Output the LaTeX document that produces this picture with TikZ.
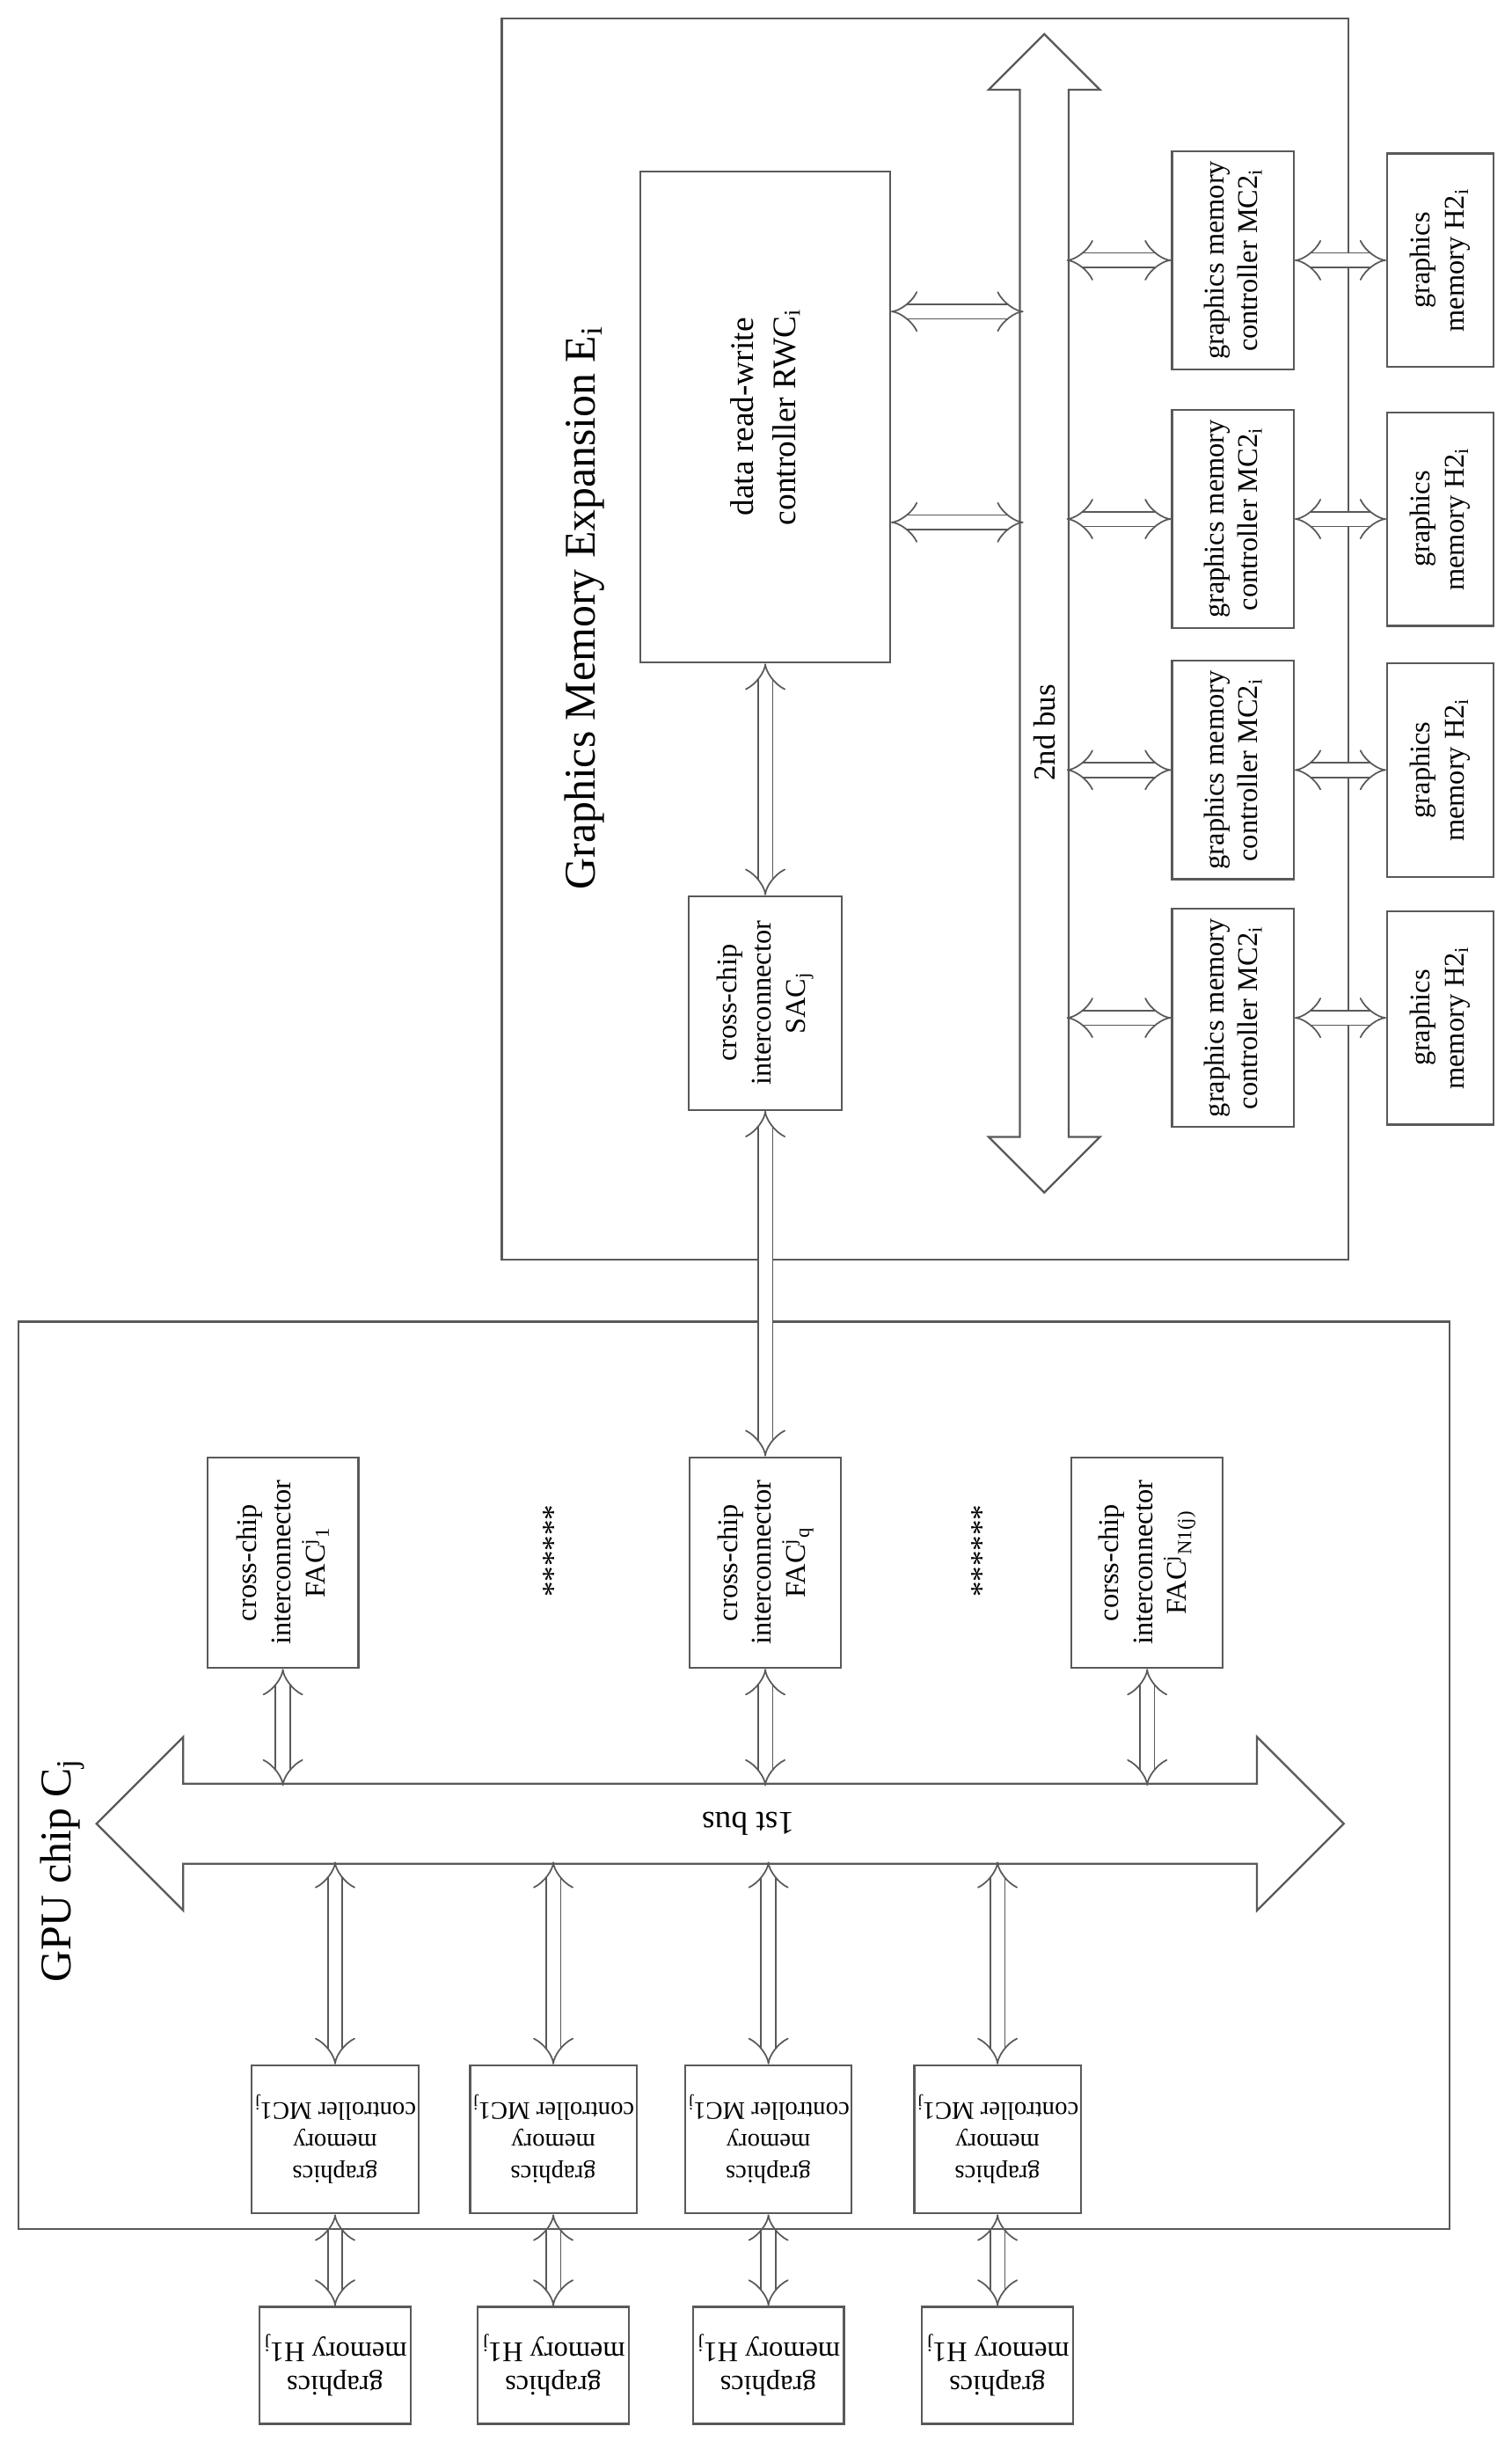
\documentclass[tikz,border=0pt]{standalone}
\usepackage{fontspec}
\setmainfont{Liberation Serif}
\usetikzlibrary{arrows.meta,shapes.arrows,positioning}
\tikzstyle{frame} = [draw=black!65, line width=0.9pt, inner sep=0pt]
\tikzstyle{box} = [draw=black!65, line width=0.9pt, text centered, align=center, inner sep=1pt, font=\fontsize{13}{15.5}\selectfont]
\tikzstyle{bus} = [draw=black!65, line width=0.9pt, shape=double arrow, inner sep=0pt, text depth=0pt, double arrow tip angle=90]
\tikzstyle{link} = [draw=black!65, line width=0.7pt, double=white, double distance=6pt, {Implies[length=6pt]}-{Implies[length=6pt]}]
\tikzstyle{title} = [font=\fontsize{20}{23}\selectfont]
\newcommand{\mctwo}[2]{node (m#1) [box, rotate=90, minimum width=3.5cm, minimum height=1.95cm] {graphics memory\\controller MC2\textsubscript{i}}}
\newcommand{\hmtwo}[2]{node (h#1) [box, rotate=90, minimum width=3.425cm, minimum height=1.7cm] {graphics\\memory H2\textsubscript{i}}}
\newcommand{\mcone}[2]{node (c#1) [box, rotate=180, minimum width=2.5cm, minimum height=2.375cm, font=\fontsize{11.5}{14.5}\selectfont] {graphics\\memory\\controller MC1\textsubscript{j}}}
\newcommand{\hmone}[2]{node (g#1) [box, rotate=180, minimum width=2.425cm, minimum height=1.875cm] {graphics\\memory H1\textsubscript{j}}}

\begin{document}
\begin{tikzpicture}[x=0.025cm,y=0.025cm]
\useasboundingbox (0,0) rectangle (970,1566);
% the two outer frames
\node (gpu) [frame, minimum width=22.95cm, minimum height=14.55cm] at (471,427) {};
\node (gme) [frame, minimum width=13.575cm, minimum height=19.9cm] at (593.5,1156) {};
\node [title, rotate=90] at (375,1176) {Graphics Memory Expansion E\textsubscript{i}};
\node [title, rotate=90] at (40,366) {GPU chip C\textsubscript{j}};

% graphics memory expansion
\node (rwc) [box, rotate=90, minimum width=7.875cm, minimum height=4cm, font=\fontsize{15}{19}\selectfont] at (491,1298.5) {data read-write\\controller RWC\textsubscript{i}};
\node (sac) [box, rotate=90, minimum width=3.425cm, minimum height=2.45cm] at (491,922.5) {cross-chip\\interconnector\\SAC\textsubscript{j}};
\node (bus2) [bus, rotate=90, minimum height=18.575cm, text height=0.75cm, minimum width=1.75cm, double arrow head extend=0.5cm] at (670,1172.5) {};
\node [rotate=90, font=\fontsize{14}{16}\selectfont] at (670,1096) {2nd bus};
\path (791,1399) \mctwo{1}{};
\path (791,1233) \mctwo{2}{};
\path (791,1072) \mctwo{3}{};
\path (791,913) \mctwo{4}{};
\path (924,1399) \hmtwo{1}{};
\path (924,1233) \hmtwo{2}{};
\path (924,1072) \hmtwo{3}{};
\path (924,913) \hmtwo{4}{};
\path [link] ([yshift=1.69cm]rwc.south) -- ++(85,0);
\path [link] ([yshift=-1.69cm]rwc.south) -- ++(85,0);
\foreach \i in {1,...,4} {
  \path [link] (m\i.north) -- ++(-67,0);
  \path [link] (m\i.south) -- (h\i.north);
}
\path [link] (sac.east) -- (rwc.west);

% GPU chip
\node (fac1) [box, rotate=90, minimum width=3.375cm, minimum height=2.425cm] at (181.5,563.5) {cross-chip\\interconnector\\FAC\textsuperscript{j}\textsubscript{1}};
\node (facq) [box, rotate=90, minimum width=3.375cm, minimum height=2.425cm] at (491,563.5) {cross-chip\\interconnector\\FAC\textsuperscript{j}\textsubscript{q}};
\node (facn) [box, rotate=90, minimum width=3.375cm, minimum height=2.425cm] at (736,563.5) {corss-chip\\interconnector\\FAC\textsuperscript{j}\textsubscript{N1(j)}};
\node [rotate=90, font=\fontsize{14}{16}\selectfont] at (355,571) {******};
\node [rotate=90, font=\fontsize{14}{16}\selectfont] at (630,571) {******};
\node (bus1) [bus, minimum height=20cm, text height=1.25cm, minimum width=2.75cm, double arrow head extend=0.75cm] at (462,396) {};
\node [rotate=180, font=\fontsize{15}{17}\selectfont] at (480,396) {1st bus};
\path [link] (sac.west) -- (facq.east);
\foreach \f in {fac1,facq,facn}
  \path [link] (\f.west) -- ++(0,-75);
\path (215,193.5) \mcone{1}{};
\path (355,193.5) \mcone{2}{};
\path (493,193.5) \mcone{3}{};
\path (640,193.5) \mcone{4}{};
\path (215,48.5) \hmone{1}{};
\path (355,48.5) \hmone{2}{};
\path (493,48.5) \hmone{3}{};
\path (640,48.5) \hmone{4}{};
\foreach \i in {1,...,4} {
  \path [link] (c\i.south) -- ++(0,130);
  \path [link] (c\i.north) -- (g\i.south);
}
\end{tikzpicture}
\end{document}
